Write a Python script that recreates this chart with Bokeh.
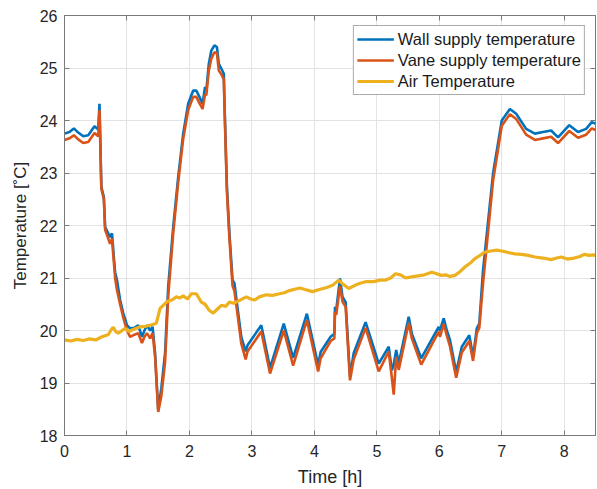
from bokeh.plotting import figure
from bokeh.models import LinearAxis, Range1d, FixedTicker, Legend, LegendItem
from bokeh.embed import file_html
from bokeh.resources import INLINE

# Supply temperatures (wall and vane) sampled at common times [h]
supply_time = [
    0.00, 0.08, 0.15, 0.22, 0.30, 0.38, 0.48, 0.54, 0.56, 0.59, 0.63, 0.65, 0.68, 0.73,
    0.76, 0.79, 0.81, 0.84, 0.89, 0.94, 1.00, 1.05, 1.12, 1.18, 1.24, 1.28, 1.32, 1.37,
    1.41, 1.45, 1.50, 1.55, 1.61, 1.66, 1.74, 1.82, 1.90, 1.98, 2.06, 2.11, 2.16, 2.21,
    2.25, 2.27, 2.31, 2.35, 2.40, 2.44, 2.47, 2.51, 2.55, 2.56, 2.60, 2.64, 2.69, 2.72,
    2.76, 2.83, 2.90, 2.93, 3.15, 3.29, 3.51, 3.66, 3.88, 4.06, 4.10, 4.26, 4.32, 4.33,
    4.35, 4.41, 4.45, 4.50, 4.57, 4.63, 4.82, 5.03, 5.19, 5.24, 5.27, 5.31, 5.35, 5.51,
    5.56, 5.71, 5.99, 6.01, 6.07, 6.12, 6.17, 6.27, 6.36, 6.48, 6.54, 6.60, 6.64, 6.70,
    6.86, 7.00, 7.13, 7.23, 7.39, 7.53, 7.66, 7.79, 7.90, 8.08, 8.22, 8.35, 8.44, 8.50,
]
wall_supply = [
    23.75, 23.78, 23.85, 23.77, 23.70, 23.72, 23.89, 23.83, 24.32, 22.73, 22.54, 21.97, 21.90, 21.78,
    21.85, 21.40, 21.11, 20.96, 20.58, 20.33, 20.10, 20.04, 20.05, 20.10, 19.88, 20.00, 20.10, 20.00,
    20.07, 19.57, 18.48, 18.90, 19.57, 20.83, 21.97, 22.92, 23.75, 24.32, 24.57, 24.57, 24.45, 24.32,
    24.64, 24.57, 25.08, 25.33, 25.43, 25.40, 25.08, 24.99, 24.89, 24.38, 22.73, 21.85, 20.96, 20.90,
    20.52, 19.88, 19.60, 19.72, 20.10, 19.29, 20.13, 19.48, 20.32, 19.34, 19.59, 19.88, 19.94, 20.45,
    20.39, 20.99, 20.64, 20.54, 19.12, 19.57, 20.16, 19.37, 19.69, 19.24, 19.35, 19.63, 19.37, 20.26,
    19.94, 19.47, 20.07, 20.00, 20.23, 20.00, 19.82, 19.21, 19.69, 19.91, 19.50, 20.04, 20.13, 21.15,
    22.99, 24.00, 24.22, 24.13, 23.84, 23.75, 23.78, 23.81, 23.68, 23.91, 23.78, 23.84, 23.97, 23.94,
]
vane_supply = [
    23.63, 23.66, 23.72, 23.64, 23.57, 23.59, 23.76, 23.70, 24.20, 22.70, 22.50, 21.92, 21.82, 21.65,
    21.75, 21.30, 21.00, 20.77, 20.50, 20.25, 20.00, 19.88, 19.92, 19.95, 19.76, 19.88, 19.95, 19.85,
    19.95, 19.50, 18.45, 18.75, 19.40, 20.65, 21.85, 22.82, 23.65, 24.20, 24.45, 24.45, 24.33, 24.22,
    24.50, 24.48, 24.95, 25.18, 25.30, 25.28, 24.95, 24.88, 24.78, 24.30, 22.65, 21.75, 20.85, 20.75,
    20.40, 19.75, 19.45, 19.60, 19.98, 19.18, 20.00, 19.33, 20.20, 19.22, 19.47, 19.80, 19.85, 20.35,
    20.30, 20.85, 20.55, 20.45, 19.05, 19.45, 20.05, 19.22, 19.60, 19.10, 18.78, 19.50, 19.25, 20.15,
    19.85, 19.35, 19.98, 19.88, 20.12, 19.90, 19.70, 19.10, 19.58, 19.80, 19.42, 19.95, 20.05, 20.90,
    22.85, 23.90, 24.12, 24.03, 23.73, 23.63, 23.66, 23.69, 23.57, 23.80, 23.67, 23.73, 23.85, 23.82,
]

# Room air temperature [h], [degC]
air_time = [
    0.00, 0.10, 0.20, 0.30, 0.40, 0.50, 0.60, 0.70, 0.75, 0.78, 0.82, 0.86, 0.90, 0.97,
    1.03, 1.10, 1.21, 1.30, 1.40, 1.47, 1.53, 1.60, 1.64, 1.72, 1.79, 1.85, 1.90, 1.97,
    2.03, 2.11, 2.19, 2.25, 2.32, 2.38, 2.44, 2.51, 2.58, 2.64, 2.71, 2.78, 2.91, 2.98,
    3.04, 3.12, 3.23, 3.33, 3.44, 3.52, 3.60, 3.70, 3.77, 3.85, 3.97, 4.08, 4.20, 4.29,
    4.39, 4.46, 4.55, 4.65, 4.73, 4.82, 4.95, 5.05, 5.14, 5.22, 5.30, 5.38, 5.46, 5.56,
    5.66, 5.76, 5.88, 5.96, 6.03, 6.10, 6.17, 6.25, 6.33, 6.41, 6.49, 6.57, 6.64, 6.72,
    6.80, 6.92, 7.02, 7.12, 7.21, 7.32, 7.42, 7.53, 7.66, 7.79, 7.88, 7.95, 8.05, 8.16,
    8.25, 8.32, 8.40, 8.46, 8.50,
]
air_temp = [
    19.82, 19.80, 19.83, 19.81, 19.84, 19.82, 19.88, 19.92, 20.02, 20.06, 19.98, 19.95, 19.98, 20.04,
    19.98, 20.02, 20.07, 20.08, 20.11, 20.14, 20.42, 20.50, 20.55, 20.58, 20.64, 20.62, 20.66, 20.60,
    20.70, 20.70, 20.54, 20.50, 20.38, 20.33, 20.40, 20.48, 20.46, 20.54, 20.52, 20.56, 20.64, 20.60,
    20.58, 20.64, 20.68, 20.67, 20.70, 20.72, 20.76, 20.79, 20.81, 20.78, 20.74, 20.78, 20.82, 20.86,
    20.96, 20.88, 20.80, 20.86, 20.90, 20.93, 20.93, 20.96, 20.96, 21.00, 21.08, 21.06, 21.00, 21.02,
    21.04, 21.06, 21.11, 21.08, 21.05, 21.06, 21.03, 21.05, 21.12, 21.21, 21.28, 21.37, 21.42, 21.49,
    21.51, 21.53, 21.51, 21.48, 21.46, 21.45, 21.43, 21.40, 21.38, 21.35, 21.38, 21.40, 21.36, 21.38,
    21.41, 21.45, 21.43, 21.44, 21.43,
]

x_ticks = [0, 1, 2, 3, 4, 5, 6, 7, 8]
y_ticks = [18, 19, 20, 21, 22, 23, 24, 25, 26]
series_names = ["Wall supply temperature", "Vane supply temperature", "Air Temperature"]

FONT = "Liberation Sans"
TEXT = "#262626"
AXIS = "#7a7a7a"

p = figure(
    width=597, height=489,
    x_range=Range1d(0, 8.5), y_range=Range1d(18, 26),
    output_backend="svg", toolbar_location=None,
    min_border_left=64, min_border_right=2, min_border_top=15, min_border_bottom=53,
    x_axis_label="Time [h]", y_axis_label="Temperature [˚C]",
)
p.background_fill_color = "white"
p.border_fill_color = "white"
p.outline_line_color = AXIS
p.outline_line_width = 1

for axis in (p.xaxis[0], p.yaxis[0]):
    axis.axis_line_color = AXIS
    axis.major_tick_line_color = AXIS
    axis.major_tick_in = 5
    axis.major_tick_out = 0
    axis.minor_tick_line_color = None
    axis.major_label_text_font = FONT
    axis.major_label_text_font_size = "16px"
    axis.major_label_text_color = TEXT
    axis.axis_label_text_font = FONT
    axis.axis_label_text_font_style = "normal"
    axis.axis_label_text_color = TEXT

p.xaxis[0].axis_label_text_font_size = "18px"
p.yaxis[0].axis_label_text_font_size = "17px"
p.xaxis[0].ticker = FixedTicker(ticks=x_ticks)
p.yaxis[0].ticker = FixedTicker(ticks=y_ticks)
p.xaxis[0].major_label_standoff = 9
p.xaxis[0].axis_label_standoff = 7
p.yaxis[0].major_label_standoff = 7
p.yaxis[0].axis_label_standoff = 7

# Tick marks on the top and right edges of the box (no labels there)
for side, ticks in (("above", x_ticks), ("right", y_ticks)):
    ax = LinearAxis(ticker=FixedTicker(ticks=ticks),
                    major_label_overrides={t: "" for t in ticks})
    ax.axis_line_color = AXIS
    ax.major_tick_line_color = AXIS
    ax.major_tick_in = 5
    ax.major_tick_out = 0
    ax.minor_tick_line_color = None
    ax.major_label_standoff = 0
    p.add_layout(ax, side)

p.xgrid.ticker = FixedTicker(ticks=x_ticks)
p.ygrid.ticker = FixedTicker(ticks=y_ticks)
for g in (p.xgrid[0], p.ygrid[0]):
    g.grid_line_color = "#e3e3e3"
    g.grid_line_width = 1

r_wall = p.line(supply_time, wall_supply, line_color="#0072BD", line_width=2.6)
r_vane = p.line(supply_time, vane_supply, line_color="#D95319", line_width=2.6)
r_air = p.line(air_time, air_temp, line_color="#EDB120", line_width=3.2)

legend = Legend(
    items=[
        LegendItem(label=series_names[0], renderers=[r_wall]),
        LegendItem(label=series_names[1], renderers=[r_vane]),
        LegendItem(label=series_names[2], renderers=[r_air]),
    ],
    location="top_right",
    margin=10,
    padding=3,
    spacing=1,
    glyph_width=37,
    glyph_height=20,
    label_height=20,
    label_standoff=4,
    label_text_font=FONT,
    label_text_font_size="16.5px",
    label_text_color="#1a1a1a",
    border_line_color="#555555",
    border_line_width=1,
    background_fill_color="white",
    background_fill_alpha=1,
)
p.add_layout(legend, "center")

open("out.html", "w").write(file_html(p, INLINE))
